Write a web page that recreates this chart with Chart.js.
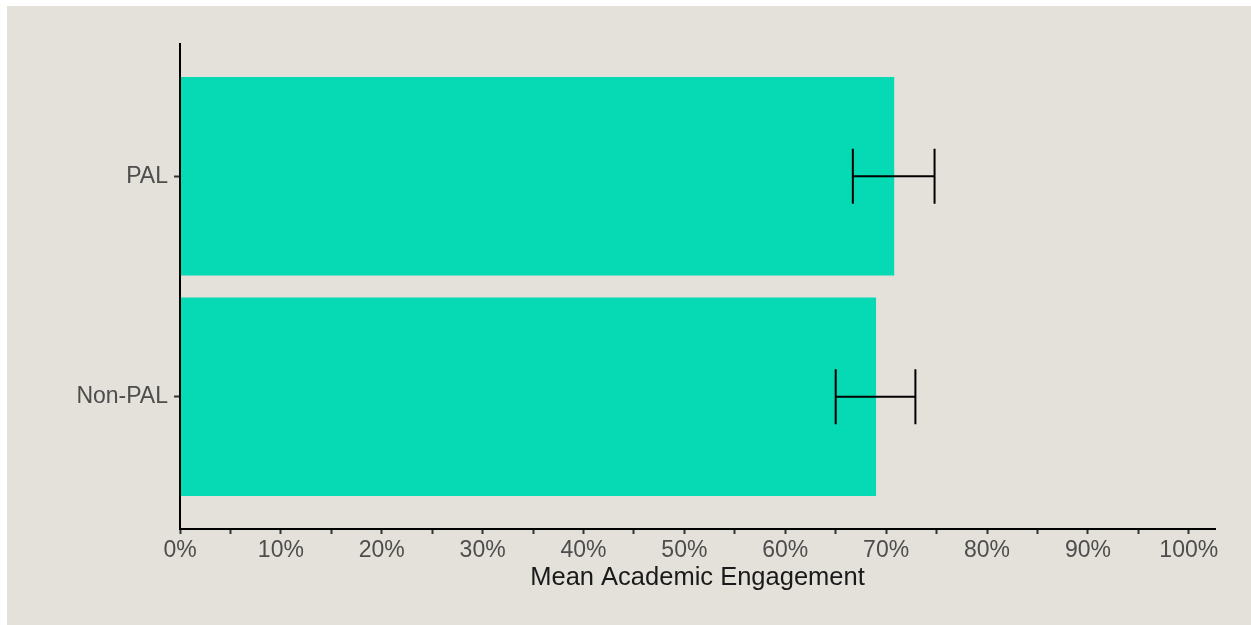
<!DOCTYPE html>
<html>
<head>
<meta charset="utf-8">
<script src="https://cdn.jsdelivr.net/npm/chart.js"></script>
<style>
  html, body { margin: 0; padding: 0; background: #ffffff; }
  #wrap { position: absolute; left: 7px; top: 6px; width: 1244px; height: 619px; background: #e4e1da; }
</style>
</head>
<body>
<div id="wrap">
  <canvas id="engagementChart" width="1244" height="619"></canvas>
</div>

<script>
  // data
  const groups = ['Non-PAL', 'PAL'];
  const groupPos = [1, 2];
  const meanEngagement = [69.0, 70.8];
  const lowerCI = [65.0, 66.7];
  const upperCI = [72.9, 74.8];
  const xTicks = [0, 5, 10, 15, 20, 25, 30, 35, 40, 45, 50, 55, 60, 65, 70, 75, 80, 85, 90, 95, 100];

  const fontFamily = "'Liberation Sans', Arial, sans-serif";

  // draws the confidence interval whiskers on top of the bars, then the y axis line again
  const errorBars = {
    id: 'errorBars',
    afterDatasetsDraw(chart) {
      const { ctx, scales: { x, y } } = chart;
      const halfCap = Math.abs(y.getPixelForValue(1) - y.getPixelForValue(1.125));
      ctx.save();
      ctx.strokeStyle = '#000000';
      ctx.lineWidth = 2;
      groups.forEach((g, i) => {
        const yc = y.getPixelForValue(groupPos[i]);
        const x0 = x.getPixelForValue(lowerCI[i]);
        const x1 = x.getPixelForValue(upperCI[i]);
        ctx.beginPath();
        ctx.moveTo(x0, yc); ctx.lineTo(x1, yc);
        ctx.moveTo(x0, yc - halfCap); ctx.lineTo(x0, yc + halfCap);
        ctx.moveTo(x1, yc - halfCap); ctx.lineTo(x1, yc + halfCap);
        ctx.stroke();
      });
      ctx.restore();
      y.drawBorder();
    }
  };

  new Chart(document.getElementById('engagementChart'), {
    type: 'bar',
    data: {
      datasets: [{
        data: groups.map((g, i) => ({ x: meanEngagement[i], y: groupPos[i] })),
        backgroundColor: '#06dab4',
        borderWidth: 0,
        barPercentage: 0.9,
        categoryPercentage: 1
      }]
    },
    options: {
      indexAxis: 'y',
      responsive: false,
      animation: false,
      layout: { padding: { top: 38, right: 36, left: 0, bottom: 0 } },
      plugins: { legend: { display: false }, tooltip: { enabled: false } },
      scales: {
        x: {
          type: 'linear',
          min: 0,
          max: 102.6,
          afterBuildTicks: (s) => { s.ticks = xTicks.map(v => ({ value: v })); },
          afterFit: (s) => { s.height = 96; },
          grid: { drawOnChartArea: false, drawTicks: true, tickLength: 5, tickWidth: 2, color: '#333333' },
          border: { display: true, color: '#000000', width: 2 },
          ticks: {
            autoSkip: false,
            maxRotation: 0,
            padding: 3,
            color: '#4d4d4d',
            font: { family: fontFamily, size: 23 },
            callback: (v) => (v % 10 === 0 ? v + '%' : '')
          },
          title: {
            display: true,
            text: 'Mean Academic Engagement',
            color: '#1a1a1a',
            font: { family: fontFamily, size: 25.5 },
            padding: { top: 0, bottom: 32 }
          }
        },
        y: {
          type: 'linear',
          min: 0.4,
          max: 2.6,
          offset: false,
          afterBuildTicks: (s) => { s.ticks = groupPos.map(v => ({ value: v })); },
          afterFit: (s) => { s.width = 173; },
          grid: { offset: false, drawOnChartArea: false, drawTicks: true, tickLength: 6, tickWidth: 2, color: '#333333' },
          border: { display: true, color: '#000000', width: 2 },
          ticks: {
            padding: 6,
            color: '#4d4d4d',
            font: { family: fontFamily, size: 23 },
            callback: (v) => groups[groupPos.indexOf(v)]
          }
        }
      }
    },
    plugins: [errorBars]
  });
</script>
</body>
</html>
